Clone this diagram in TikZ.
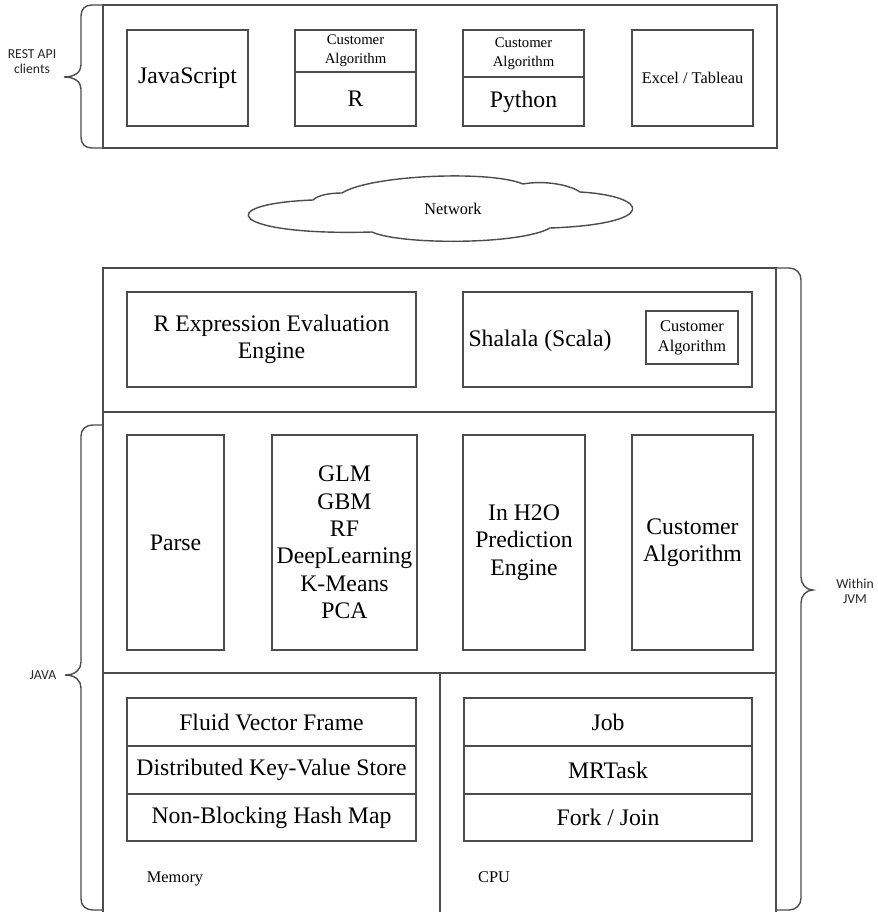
\documentclass[tikz,border=0pt]{standalone}
\usepackage{fontspec}
\setmainfont{Liberation Serif}
\newfontfamily\bracefont{Carlito}

\begin{document}
\begin{tikzpicture}[x=0.02cm, y=-0.02cm,
    line/.style={draw=black!70, line width=0.8pt},
    box/.style={line, inner sep=0pt, align=center},
    wh/.style 2 args={minimum width=#1*0.02cm, minimum height=#2*0.02cm},
    big/.style={font=\fontsize{13.5}{15.6}\selectfont},
    mid/.style={font=\fontsize{9.3}{11.4}\selectfont},
    small/.style={font=\fontsize{8.4}{10.8}\selectfont},
    tag/.style={font=\bracefont\fontsize{7.8}{8.6}\selectfont, align=center, text=black!85}]
\useasboundingbox (0,0) rectangle (877,912);

\node[box, wh={674}{143}] (clients) at (440,76.5) {};
\node[box, big, wh={121}{96}] (js) at (187.5,78) {JavaScript};
\node[box, small, wh={121}{42}] (ralgo) at (355.5,51) {Customer\\Algorithm};
\node[box, big, wh={121}{54}] (r) at (355.5,99) {R};
\node[box, small, wh={121}{47}] (pyalgo) at (523.5,53.5) {Customer\\Algorithm};
\node[box, big, wh={121}{49}] (py) at (523.5,101.5) {Python};
\node[box, mid, wh={121}{96}] (excel) at (692.5,78) {Excel / Tableau};
\draw[line] (103,5) -- (92,5) .. controls (85,5) and (81,9) .. (81,16) -- (81,65)
    .. controls (81,72) and (75,77) .. (64,77) .. controls (75,77) and (81,82) .. (81,89)
    -- (81,137) .. controls (81,144) and (85,148) .. (92,148) -- (103,148);
\node[tag] (rest) at (32,62) {REST API\\clients};

\draw[line] (313,200) .. controls (318,195) and (330,193) .. (342,193)
    .. controls (370,175) and (490,170) .. (523,184)
    .. controls (545,180) and (570,185) .. (580,192)
    .. controls (650,196) and (660,224) .. (550,228)
    .. controls (520,245) and (400,245) .. (372,232)
    .. controls (230,236) and (210,204) .. (313,200) -- cycle;
\node[mid] (net) at (453,209) {Network};

\node[box, wh={673}{652}] (jvm) at (439.5,594) {};
\draw[line] (103,412) -- (776,412);
\draw[line] (103,673) -- (776,673);
\draw[line] (440,673) -- (440,920);

\node[box, big, wh={289}{95}] (rexpr) at (271.5,339.5) {R Expression Evaluation\\Engine};
\node[box, wh={289}{95}] (shalala) at (607.5,339.5) {};
\node[big] (scala) at (540,341) {Shalala (Scala)};
\node[box, mid, wh={92}{53}] (scalgo) at (692,337.5) {Customer\\Algorithm};

\node[box, big, wh={97}{215}] (parse) at (175.5,542.5) {Parse};
\node[box, big, wh={145}{215}] (algos) at (344.5,542.5) {GLM\\GBM\\RF\\DeepLearning\\K-Means\\PCA};
\node[box, big, wh={122}{215}] (predict) at (524,542.5) {In H2O\\Prediction\\Engine};
\node[box, big, wh={121}{215}] (custom) at (692.5,542.5) {Customer\\Algorithm};

\node[box, big, wh={289}{48}] (fvf) at (271.5,722) {Fluid Vector Frame};
\node[box, big, wh={289}{48}] (dkv) at (271.5,770) {Distributed Key-Value Store};
\node[box, big, wh={289}{47}] (nbhm) at (271.5,817.5) {Non-Blocking Hash Map};
\node[box, big, wh={288}{48}] (job) at (608,722) {Job};
\node[box, big, wh={288}{48}] (mrtask) at (608,770) {MRTask};
\node[box, big, wh={288}{47}] (fj) at (608,817.5) {Fork / Join};
\node[mid] (mem) at (175,879) {Memory};
\node[mid] (cpu) at (494,877) {CPU};

\draw[line] (103,425) -- (93,425) .. controls (86,425) and (81,429) .. (81,436) -- (81,662)
    .. controls (81,669) and (76,675) .. (65,675) .. controls (76,675) and (81,681) .. (81,688)
    -- (81,899) .. controls (81,906) and (86,910) .. (93,910) -- (103,910);
\node[tag] (java) at (43,675) {JAVA};

\draw[line] (776,268) -- (789,268) .. controls (796,268) and (801,273) .. (801,280) -- (801,577)
    .. controls (801,584) and (806,590) .. (813,590) .. controls (806,590) and (801,596) .. (801,603)
    -- (801,898) .. controls (801,905) and (796,910) .. (789,910) -- (776,910);
\node[tag] (within) at (855,591) {Within\\JVM};
\end{tikzpicture}
\end{document}
